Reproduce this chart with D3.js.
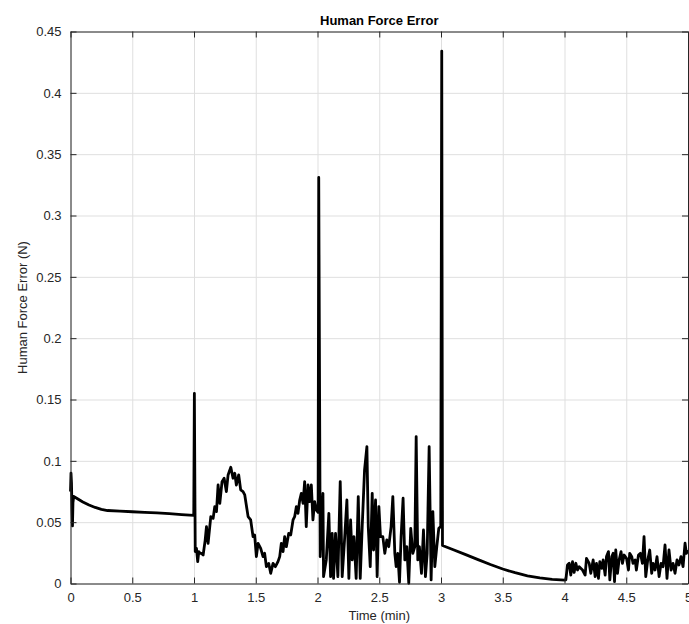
<!DOCTYPE html>
<html>
<head>
<meta charset="utf-8">
<script src="https://cdn.jsdelivr.net/npm/d3@7"></script>
<style>
    body { margin: 0; background: #fff; }
    #chart-area { width: 689px; height: 624px; }
    text { font-family: "Liberation Sans", Arial, Helvetica, sans-serif; fill: #262626; }
    .grid line { stroke: #dfdfdf; stroke-width: 1; }
    .chart-title { font-weight: bold; font-size: 13px; fill: #000; }
</style>
</head>
<body>
<div id="chart-area"></div>
<script>
// time of each sample (min)
const timeMin = [
    0.000, 0.004, 0.008, 0.012, 0.016, 0.020, 0.026, 0.05, 0.10, 0.15, 0.20, 0.25, 0.30, 0.40, 0.50, 0.60, 0.70, 0.80, 0.90, 0.998,
    1.003, 1.010, 1.020, 1.030, 1.039, 1.050, 1.060, 1.074, 1.090, 1.101, 1.114, 1.136, 1.155, 1.168, 1.182, 1.195, 1.209, 1.227,
    1.244, 1.262, 1.276, 1.298, 1.316, 1.330, 1.343, 1.362, 1.378, 1.397, 1.411, 1.438, 1.459, 1.478, 1.491, 1.505, 1.519, 1.540,
    1.559, 1.572, 1.586, 1.605, 1.621, 1.640, 1.659, 1.680, 1.694, 1.707, 1.721, 1.734, 1.748, 1.767, 1.783, 1.802, 1.815, 1.829,
    1.842, 1.856, 1.869, 1.883, 1.896, 1.909, 1.923, 1.936, 1.950, 1.963, 1.977, 1.990, 2.005,
    2.010, 2.022, 2.044, 2.049, 2.071, 2.092, 2.106, 2.119, 2.130, 2.146, 2.165, 2.184, 2.200, 2.219, 2.238, 2.254, 2.268, 2.281,
    2.295, 2.313, 2.330, 2.346, 2.362, 2.381, 2.400, 2.411, 2.427, 2.443, 2.454, 2.470, 2.483, 2.497, 2.510, 2.529, 2.545, 2.561,
    2.577, 2.596, 2.610, 2.626, 2.637, 2.650, 2.664, 2.677, 2.693, 2.707, 2.723, 2.739, 2.755, 2.772, 2.788, 2.799, 2.812, 2.825,
    2.842, 2.858, 2.874, 2.888, 2.904, 2.920, 2.934, 2.950, 2.966, 2.982, 2.998,
    3.006, 3.012, 3.10, 3.20, 3.30, 3.40, 3.50, 3.60, 3.70, 3.80, 3.90, 4.003,
    4.011, 4.024, 4.038, 4.051, 4.065, 4.078, 4.092, 4.105, 4.119, 4.146, 4.167, 4.178, 4.200, 4.213, 4.232, 4.248, 4.259, 4.275,
    4.286, 4.302, 4.313, 4.329, 4.340, 4.356, 4.367, 4.383, 4.394, 4.405, 4.415, 4.429, 4.442, 4.458, 4.469, 4.483, 4.502, 4.518,
    4.528, 4.545, 4.555, 4.572, 4.582, 4.599, 4.615, 4.631, 4.644, 4.658, 4.674, 4.690, 4.706, 4.717, 4.733, 4.749, 4.766, 4.782,
    4.798, 4.814, 4.830, 4.846, 4.863, 4.879, 4.895, 4.911, 4.927, 4.943, 4.960, 4.976, 4.987, 5.000
];

// human force error (N)
const forceError = [
    0.075, 0.090, 0.082, 0.060, 0.047, 0.066, 0.071, 0.0695, 0.0665, 0.064, 0.062, 0.0605, 0.0595, 0.059, 0.0585, 0.058, 0.0575, 0.057, 0.0562, 0.0555,
    0.155, 0.026, 0.0287, 0.0178, 0.026, 0.0246, 0.0246, 0.0232, 0.035, 0.0464, 0.0327, 0.0545, 0.0531, 0.0627, 0.0586, 0.0803, 0.0654, 0.083,
    0.0858, 0.0749, 0.0885, 0.0948, 0.0858, 0.0899, 0.0803, 0.0885, 0.0763, 0.0749, 0.0722, 0.0545, 0.0518, 0.0382, 0.0396, 0.0219, 0.0327, 0.0287,
    0.0219, 0.0246, 0.0137, 0.0164, 0.0083, 0.0164, 0.0137, 0.0178, 0.0219, 0.0327, 0.026, 0.0382, 0.030, 0.0409, 0.0396, 0.0518, 0.0545, 0.0627,
    0.0572, 0.0681, 0.0735, 0.0654, 0.0831, 0.0464, 0.0803, 0.0667, 0.0803, 0.0518, 0.0667, 0.060, 0.058,
    0.331, 0.0219, 0.0735, 0.0056, 0.0192, 0.0572, 0.0056, 0.0409, 0.0042, 0.0409, 0.0056, 0.0831, 0.0056, 0.0355, 0.0681, 0.0042, 0.0518, 0.0192,
    0.0382, 0.0042, 0.0708, 0.0042, 0.0464, 0.0926, 0.1116, 0.0464, 0.0137, 0.0735, 0.0273, 0.0681, 0.0056, 0.0627, 0.0382, 0.0382, 0.0246, 0.0355,
    0.030, 0.0464, 0.0708, 0.0246, 0.0137, 0.0246, 0.001, 0.0382, 0.0695, 0.0192, 0.030, 0.0002, 0.045, 0.0246, 0.030, 0.1198, 0.0192, 0.030,
    0.0083, 0.0436, 0.0056, 0.0246, 0.1116, 0.0029, 0.0586, 0.0137, 0.030, 0.045, 0.0464,
    0.434, 0.031, 0.0275, 0.0235, 0.0195, 0.0155, 0.0118, 0.0088, 0.0063, 0.0045, 0.0033, 0.0028,
    0.0029, 0.0151, 0.0165, 0.0069, 0.0178, 0.009, 0.0165, 0.011, 0.0137, 0.011, 0.0069, 0.0205, 0.0164, 0.0083, 0.0192, 0.0056, 0.0164, 0.0042,
    0.0178, 0.0124, 0.0192, 0.0069, 0.0219, 0.026, 0.0029, 0.0219, 0.0246, 0.0015, 0.0273, 0.0083, 0.0192, 0.026, 0.0164, 0.0232, 0.0205, 0.011,
    0.0246, 0.0219, 0.0164, 0.0192, 0.011, 0.0232, 0.0246, 0.0164, 0.0382, 0.0056, 0.0192, 0.0273, 0.0083, 0.0164, 0.011, 0.0219, 0.0056, 0.0164,
    0.0137, 0.0314, 0.0042, 0.0273, 0.011, 0.0164, 0.0083, 0.0192, 0.0151, 0.0219, 0.0137, 0.0328, 0.0246, 0.0273
];

const xTicks = [0, 0.5, 1, 1.5, 2, 2.5, 3, 3.5, 4, 4.5, 5];
const yTicks = [0, 0.05, 0.1, 0.15, 0.2, 0.25, 0.3, 0.35, 0.4, 0.45];

class ForceErrorLineVis {

    constructor(parentElement, times, values) {
        this.parentElement = parentElement;
        this.data = times.map((t, i) => ({ time: t, error: values[i] }));

        this.initVis();
    }

    initVis() {
        let vis = this;

        vis.margin = { top: 31.5, right: 1, bottom: 40.5, left: 70.5 };
        vis.width = 689 - vis.margin.left - vis.margin.right;
        vis.height = 624 - vis.margin.top - vis.margin.bottom;

        vis.svg = d3.select("#" + vis.parentElement).append("svg")
            .attr("width", 689)
            .attr("height", 624);

        vis.chartGroup = vis.svg.append("g")
            .attr("transform", `translate(${vis.margin.left},${vis.margin.top})`);

        vis.xScale = d3.scaleLinear().domain([0, 5]).range([0, vis.width]);
        vis.yScale = d3.scaleLinear().domain([0, 0.45]).range([vis.height, 0]);

        // grid
        vis.chartGroup.append("g")
            .attr("class", "grid")
            .attr("transform", `translate(0,${vis.height})`)
            .call(d3.axisBottom(vis.xScale).tickValues(xTicks).tickSize(-vis.height).tickFormat(""))
            .call(g => g.select(".domain").remove());

        vis.chartGroup.append("g")
            .attr("class", "grid")
            .call(d3.axisLeft(vis.yScale).tickValues(yTicks).tickSize(-vis.width).tickFormat(""))
            .call(g => g.select(".domain").remove());

        vis.wrangleData();
    }

    wrangleData() {
        let vis = this;
        vis.updateVis();
    }

    updateVis() {
        let vis = this;

        let line = d3.line()
            .x(d => vis.xScale(d.time))
            .y(d => vis.yScale(d.error));

        vis.chartGroup.append("path")
            .datum(vis.data)
            .attr("fill", "none")
            .attr("stroke", "#000")
            .attr("stroke-width", 2.8)
            .attr("stroke-linejoin", "round")
            .attr("d", line);

        // axes (ticks point inward, box on all sides)
        let styleAxis = g => {
            g.selectAll("path, line").attr("stroke", "#262626");
            g.selectAll("text").attr("font-size", "13px").attr("fill", "#262626")
                .style("font-family", "'Liberation Sans', Arial, sans-serif");
        };

        vis.chartGroup.append("g")
            .attr("transform", `translate(0,${vis.height})`)
            .call(d3.axisBottom(vis.xScale).tickValues(xTicks).tickSize(-6).tickSizeOuter(0).tickPadding(9).tickFormat(d3.format("")))
            .call(styleAxis);

        vis.chartGroup.append("g")
            .call(d3.axisTop(vis.xScale).tickValues(xTicks).tickSize(-6).tickSizeOuter(0).tickFormat(""))
            .call(styleAxis);

        vis.chartGroup.append("g")
            .call(d3.axisLeft(vis.yScale).tickValues(yTicks).tickSize(-6).tickSizeOuter(0).tickPadding(9).tickFormat(d3.format("")))
            .call(styleAxis);

        vis.chartGroup.append("g")
            .attr("transform", `translate(${vis.width},0)`)
            .call(d3.axisRight(vis.yScale).tickValues(yTicks).tickSize(-6).tickSizeOuter(0).tickFormat(""))
            .call(styleAxis);

        // labels
        vis.chartGroup.append("text")
            .attr("class", "chart-title")
            .attr("x", vis.width / 2)
            .attr("y", -7)
            .attr("text-anchor", "middle")
            .text("Human Force Error");

        vis.chartGroup.append("text")
            .attr("x", vis.width / 2)
            .attr("y", vis.height + 36)
            .attr("text-anchor", "middle")
            .attr("font-size", "13px")
            .text("Time (min)");

        vis.chartGroup.append("text")
            .attr("transform", `translate(${-44},${vis.height / 2}) rotate(-90)`)
            .attr("text-anchor", "middle")
            .attr("font-size", "13px")
            .text("Human Force Error (N)");
    }
}

new ForceErrorLineVis("chart-area", timeMin, forceError);
</script>
</body>
</html>
